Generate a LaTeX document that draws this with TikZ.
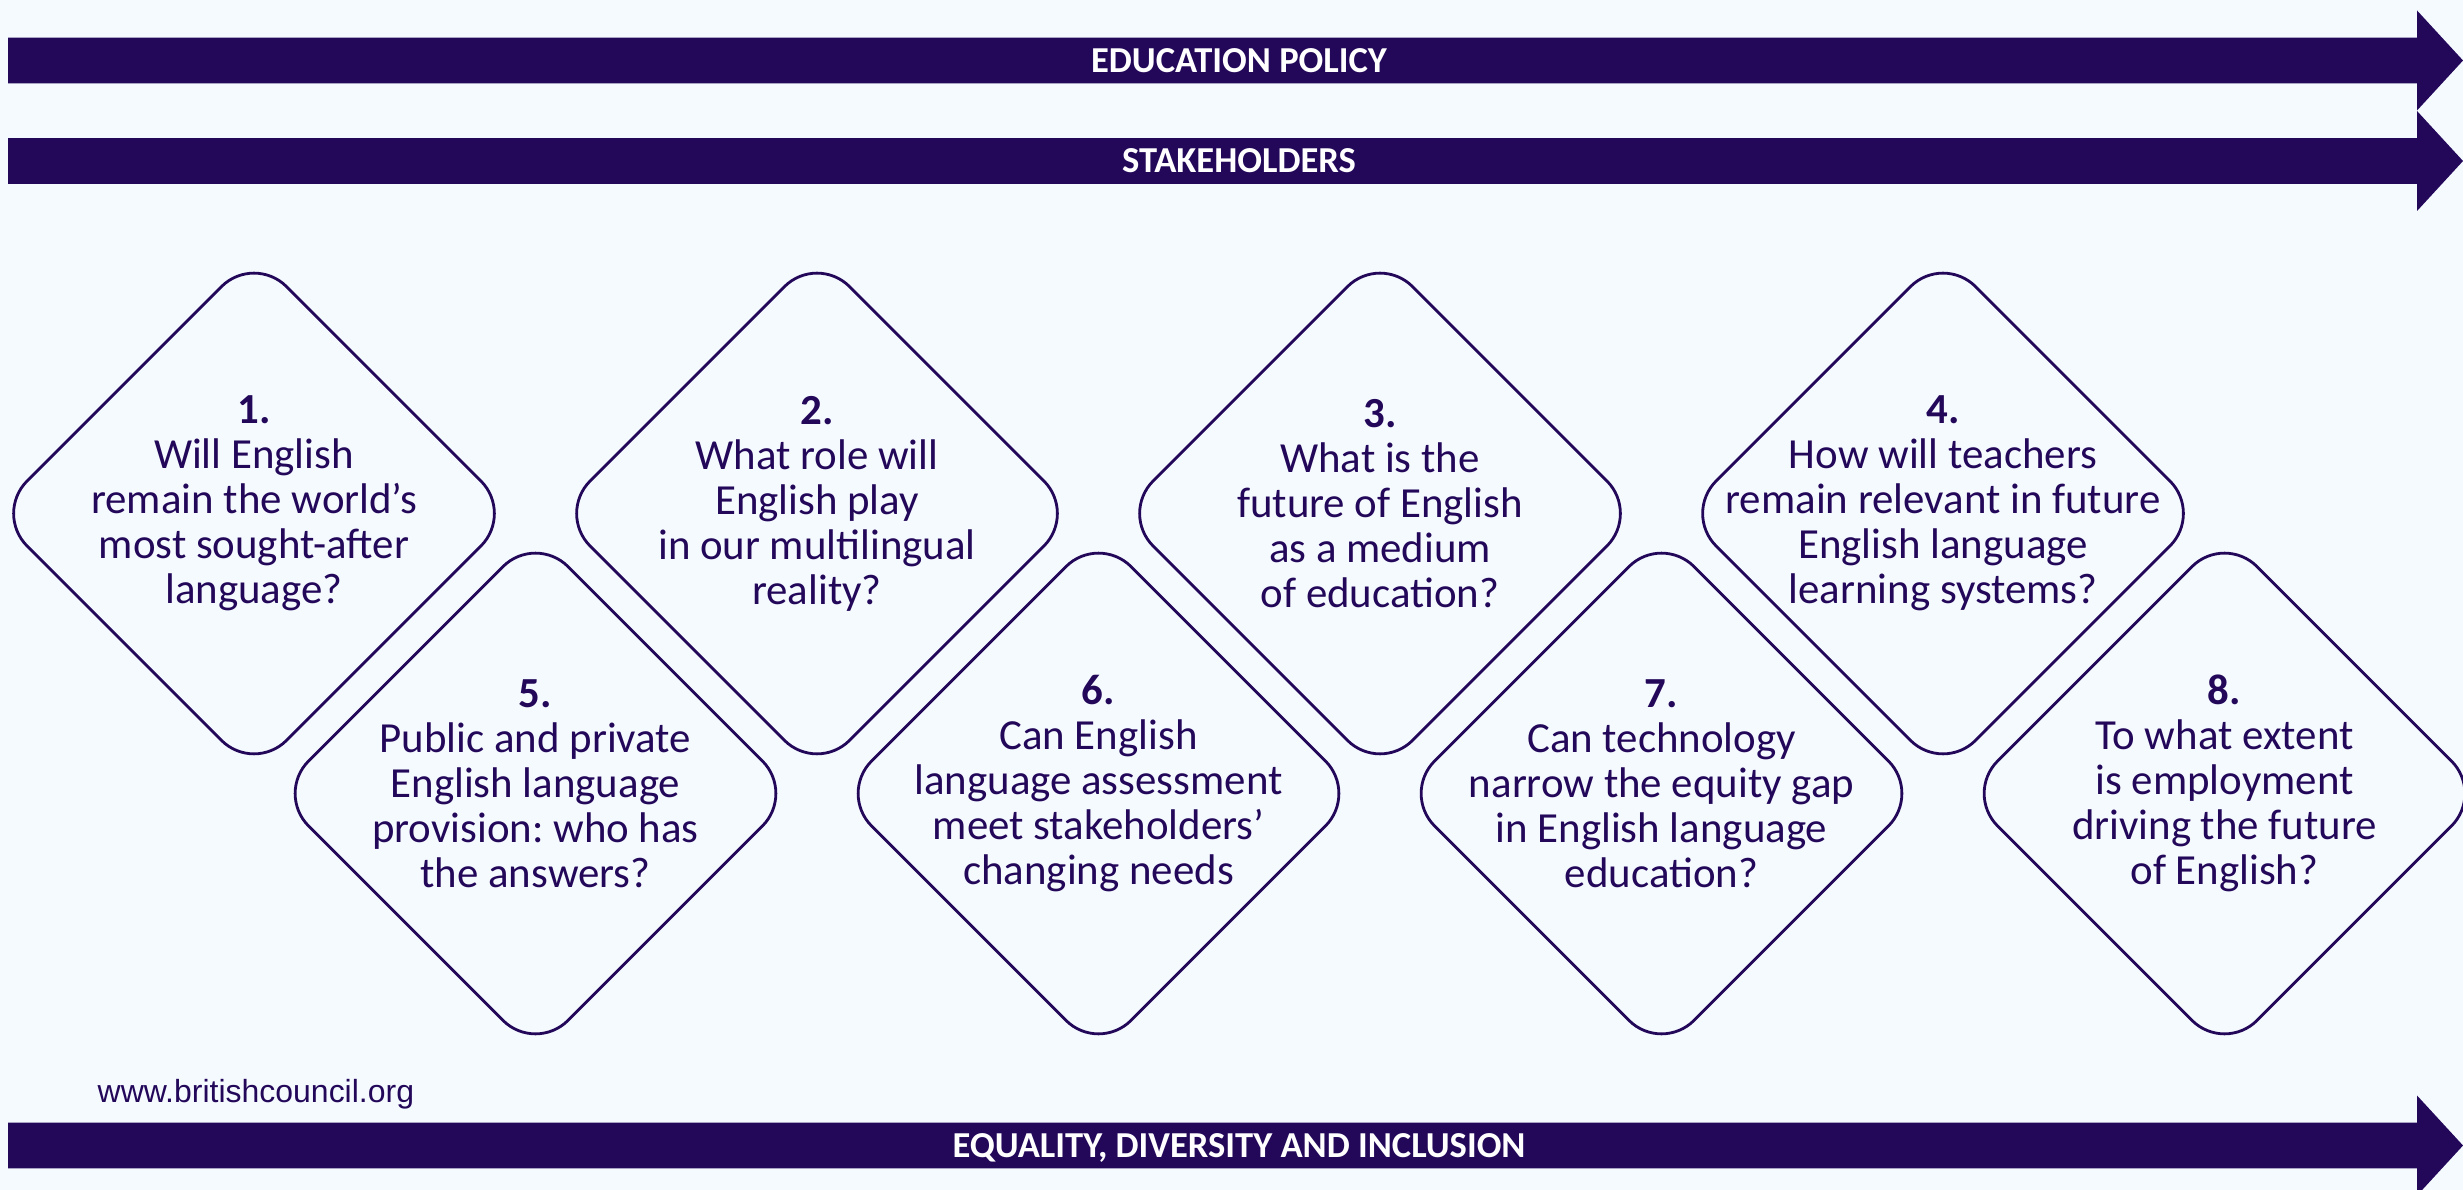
\documentclass[tikz,border=0pt]{standalone}
\usepackage{fontspec}
\setmainfont{Carlito}
\newfontfamily\webfont{Liberation Sans}
\usepackage{tikz}
\usetikzlibrary{positioning,shapes.geometric}
\definecolor{bcindigo}{RGB}{35,8,90}
\definecolor{bcpaper}{RGB}{245,250,255}
\frenchspacing

\begin{document}
\begin{tikzpicture}[auto,node distance=5.63cm,on grid]
	\tikzstyle{qbox}=[diamond,draw=bcindigo,line width=0.8pt,rounded corners=0.46cm,aspect=1,minimum width=5.2cm,minimum height=5.2cm,inner sep=0pt]
	\tikzstyle{qtext}=[text=bcindigo,align=center,yshift=1mm,font=\fontsize{12.2}{12.8}\selectfont]
	\tikzstyle{band}=[text=white,text depth=0pt,font=\fontsize{10.4}{12}\selectfont\bfseries]
	\useasboundingbox (0,0) rectangle (24.63,-11.90);
	\clip (0,0) rectangle (24.63,-11.90);
	\fill[bcpaper] (0,0) rectangle (24.63,-11.90);
	% banner arrows
	\foreach \y in {-0.605,-1.61,-11.455}
		\fill[bcindigo] (0.08,\y+0.228) -- (24.17,\y+0.228) -- (24.17,\y+0.5) -- (24.63,\y) -- (24.17,\y-0.5) -- (24.17,\y-0.228) -- (0.08,\y-0.228) -- cycle;
		\node[band] (policy) at (12.39,-0.605) {EDUCATION POLICY};
		\node[band] (stake) at (12.39,-1.61) {STAKEHOLDERS};
		\node[band] (edi) at (12.39,-11.455) {EQUALITY, DIVERSITY AND INCLUSION};
		\node[anchor=base west,inner sep=0pt,text=bcindigo,font=\webfont\fontsize{9.1}{11}\selectfont] (site) at (0.97,-11.02) {www.britishcouncil.org};
	% questions
		\node[qbox] (d1) at (2.54,-5.135) {};
		\node[qbox] (d2) [right=of d1] {};
		\node[qbox] (d3) [right=of d2] {};
		\node[qbox] (d4) [right=of d3] {};
		\node[qbox] (d5) [below right=2.8cm and 2.815cm of d1] {};
		\node[qbox] (d6) [right=of d5] {};
		\node[qbox] (d7) [right=of d6] {};
		\node[qbox] (d8) [right=of d7] {};
		\node[qtext] (q1) at (d1) {\textbf{1.}\\Will English\\remain the world’s\\most sought-after\\language?};
		\node[qtext] (q2) at (d2) {\textbf{2.}\\What role will\\English play\\in our multilingual\\reality?};
		\node[qtext] (q3) at (d3) {\textbf{3.}\\What is the\\future of English\\as a medium\\of education?};
		\node[qtext] (q4) at (d4) {\textbf{4.}\\How will teachers\\remain relevant in future\\English language\\learning systems?};
		\node[qtext] (q5) at (d5) {\textbf{5.}\\Public and private\\English language\\provision: who has\\the answers?};
		\node[qtext] (q6) at (d6) {\textbf{6.}\\Can English\\language assessment\\meet stakeholders’\\changing needs};
		\node[qtext] (q7) at (d7) {\textbf{7.}\\Can technology\\narrow the equity gap\\in English language\\education?};
		\node[qtext] (q8) at (d8) {\textbf{8.}\\To what extent\\is employment\\driving the future\\of English?};
\end{tikzpicture}
\end{document}
